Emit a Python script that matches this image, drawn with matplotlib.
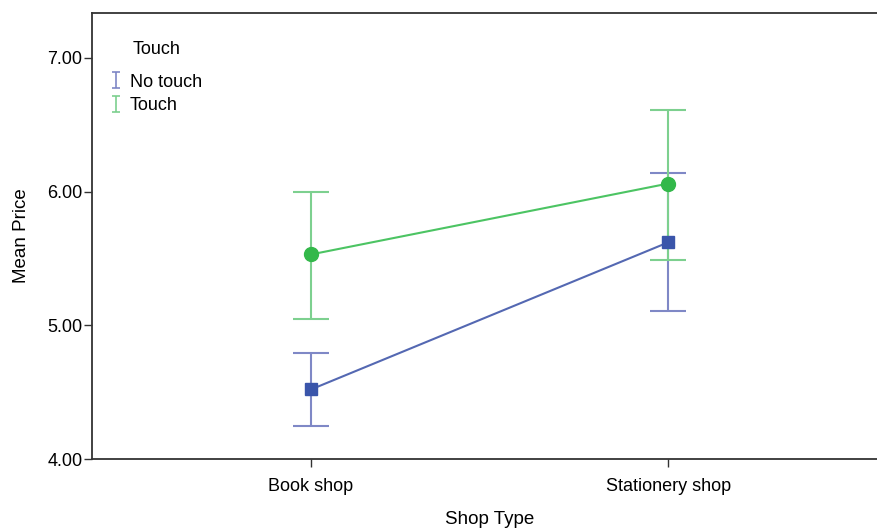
import matplotlib
matplotlib.use("Agg")
import matplotlib.pyplot as plt
from matplotlib.lines import Line2D
from matplotlib.path import Path

plt.rcParams['font.family'] = ['Liberation Sans', 'DejaVu Sans']

shops = ["Book shop", "Stationery shop"]
no_touch_mean = [4.52, 5.62]
no_touch_low = [4.25, 5.11]
no_touch_high = [4.79, 6.14]
touch_mean = [5.53, 6.06]
touch_low = [5.05, 5.49]
touch_high = [6.00, 6.61]
yticks = [4.0, 5.0, 6.0, 7.0]

fig = plt.figure(figsize=(8.77, 5.28), dpi=100)
ax = fig.add_axes([92 / 877, 69 / 528, 795 / 877, 446 / 528])

x = list(range(len(shops)))

# small error-bar glyph for the legend
ibar = Path([(-0.5, -1), (0.5, -1), (0, -1), (0, 1), (-0.5, 1), (0.5, 1)],
            [Path.MOVETO, Path.LINETO, Path.MOVETO, Path.LINETO, Path.MOVETO, Path.LINETO])

series = [
    ("No touch", no_touch_mean, no_touch_low, no_touch_high, "#3a55aa", "#7f88c6", "#5468b2", "s", 9),
    ("Touch", touch_mean, touch_low, touch_high, "#33b84a", "#7dd08f", "#4cc463", "o", 10),
]
handles = []
for name, mean, low, high, col, ecol, lc, mk, ms in series:
    err = [[m - l for m, l in zip(mean, low)], [h - m for m, h in zip(mean, high)]]
    ax.errorbar(x, mean, yerr=err, fmt='none', ecolor=ecol, elinewidth=1.5,
                capsize=13, capthick=1.5, zorder=2)
    handles.append(Line2D([], [], linestyle='none', marker=ibar, color=ecol,
                          markersize=11.5, markeredgewidth=1.2))
for name, mean, low, high, col, ecol, lc, mk, ms in series:
    ax.plot(x, mean, color=lc, lw=1.5, zorder=3)
    ax.plot(x, mean, linestyle='none', marker=mk, color=col, markersize=ms, zorder=4)

ax.set_xlim(-0.613, 1.613)
ax.set_ylim(4.0, 7.336)
ax.set_yticks(yticks)
ax.set_yticklabels(["%.2f" % v for v in yticks])
ax.set_xticks(x)
ax.set_xticklabels(shops)
ax.tick_params(axis='both', labelsize=13, color='#333333', length=6, width=1)
ax.tick_params(axis='y', pad=1)
ax.tick_params(axis='x', pad=8)
for s in ax.spines.values():
    s.set_color('#333333')
    s.set_linewidth(1.3)
ax.set_ylabel("Mean Price", fontsize=13.5, labelpad=12)
ax.set_xlabel("Shop Type", fontsize=13.5, labelpad=11)

ax.text(0.0516, 0.919, "Touch", transform=ax.transAxes, fontsize=13,
        ha='left', va='center')
ax.legend(handles=handles, labels=["No touch", "Touch"],
          loc='upper left', bbox_to_anchor=(0.0234, 0.864), frameon=False,
          fontsize=13, handlelength=0.6, handletextpad=0.48,
          labelspacing=0.37, borderaxespad=0, borderpad=0)

fig.savefig("out.png", dpi=100)
